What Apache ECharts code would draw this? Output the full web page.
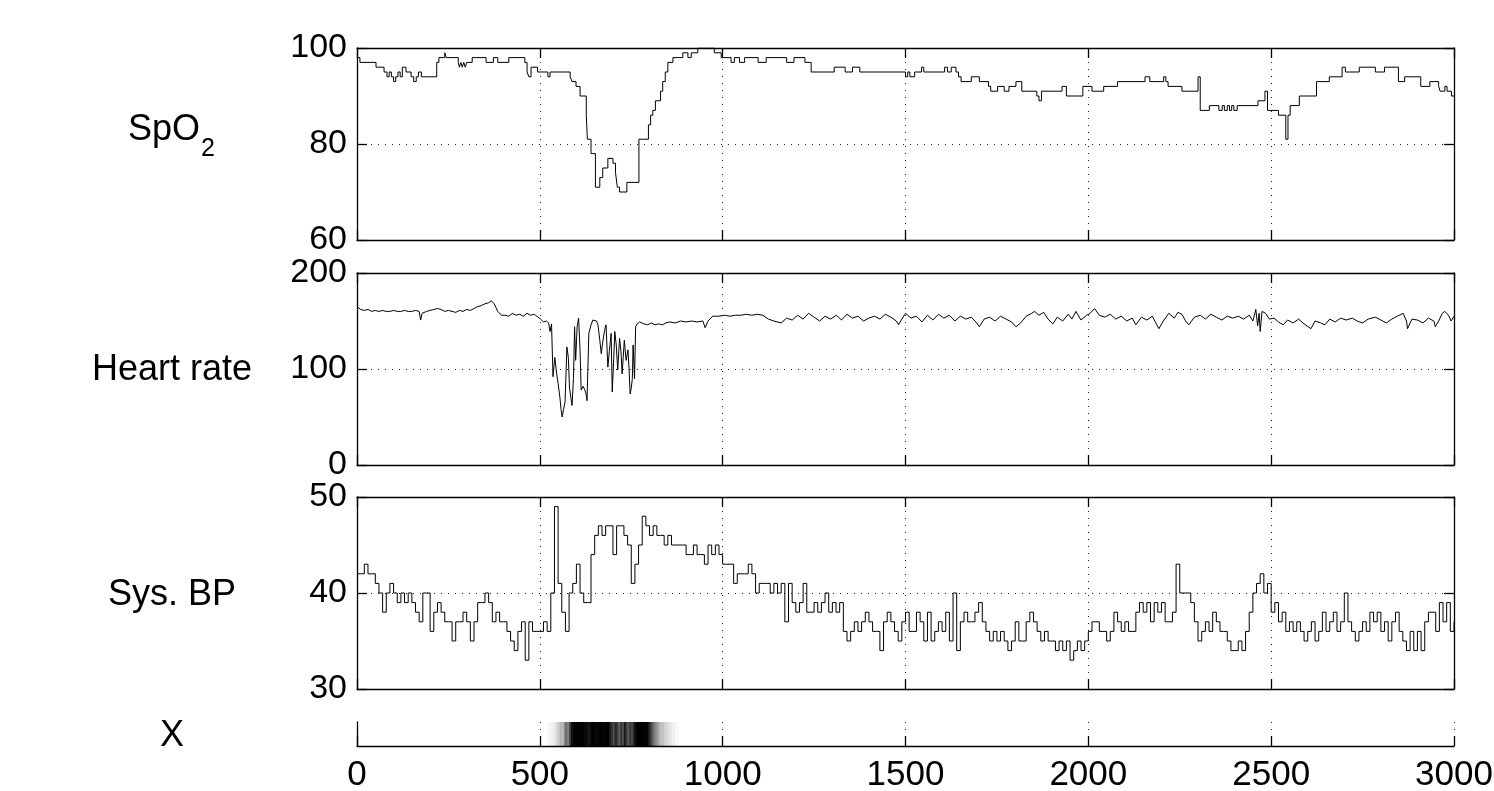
<!DOCTYPE html>
<html><head><meta charset="utf-8">
<script src="https://cdn.jsdelivr.net/npm/echarts@6/dist/echarts.min.js"></script>
<style>html,body{margin:0;padding:0;background:#fff}#c{width:1494px;height:791px}</style>
</head><body><div id="c"></div>
<script>
// ---------- DATA ----------
const xTickValues = [0, 500, 1000, 1500, 2000, 2500, 3000];

// SpO2: step levels (value holds from time until the next time)
const spo2T = [0,8,52,74,82,88,94,100,106,112,118,124,134,148,155,162,168,176,218,224,240,244,277,280,284,288,292,296,300,315,353,373,385,415,459,465,470,476,494,522,528,583,588,599,610,627,630,640,652,664,672,686,700,707,712,718,738,771,797,803,809,816,830,836,843,850,864,891,905,914,932,977,996,1023,1032,1046,1060,1097,1119,1175,1195,1225,1242,1305,1335,1355,1375,1500,1506,1512,1525,1544,1550,1607,1615,1625,1638,1645,1652,1680,1702,1727,1733,1752,1770,1783,1802,1818,1859,1865,1872,1928,1940,1985,2010,2042,2080,2155,2168,2206,2212,2218,2256,2300,2306,2331,2357,2366,2372,2380,2386,2392,2398,2407,2464,2483,2490,2520,2540,2546,2552,2577,2624,2659,2694,2703,2741,2785,2810,2848,2865,2909,2934,2958,2962,2975,2981,2993,3000];
const spo2V = [98,97,96,95,94,95,94,93,94,95,94,96,95,94,93,94,95,94,97,98,99,98,97,96,97,96,97,96,97,98,97,98,97,98,97,95,94,96,95,94,95,94,93,92,90,86,81,78,71,73,75,77,76,74,71,70,72,81,84,86,87,89,91,93,95,97,98,99,98,99,100,99,98,97,98,97,98,97,98,97,98,97,95,96,95,96,95,94,95,94,95,96,95,96,95,96,95,94,93,94,93,92,91,92,91,92,93,91,90,89,91,92,90,92,91,92,93,94,93,94,93,92,91,94,87,88,87,88,87,88,87,88,87,88,89,91,87,86,81,86,88,90,93,94,96,95,96,95,96,93,94,92,93,92,91,92,91,90,90];

// Heart rate
const hrT = [0,10,20,30,40,50,60,70,80,90,100,110,120,130,140,150,160,170,174,178,190,200,210,220,230,240,250,260,270,280,290,300,310,320,330,340,350,360,367,375,385,395,405,415,425,435,445,455,465,475,485,495,502,510,518,524,528,532,536,541,546,550,555,558,561,565,569,574,578,581,585,588,592,595,598,602,606,610,613,618,622,626,629,634,640,645,650,655,659,664,668,672,677,681,686,690,695,698,702,705,709,713,718,722,725,728,731,736,741,744,747,750,753,755,759,762,766,773,785,795,805,815,825,835,845,855,870,885,900,915,930,946,952,960,973,990,1005,1020,1035,1050,1065,1080,1095,1110,1125,1140,1160,1175,1190,1205,1220,1235,1250,1265,1280,1295,1311,1325,1340,1355,1370,1385,1400,1415,1430,1445,1460,1475,1481,1490,1500,1515,1530,1545,1560,1575,1590,1605,1620,1635,1650,1665,1680,1695,1702,1715,1730,1745,1760,1775,1790,1802,1815,1830,1845,1853,1865,1878,1890,1903,1915,1930,1945,1955,1966,1980,1995,2005,2017,2030,2045,2060,2075,2090,2105,2120,2130,2145,2160,2175,2193,2205,2220,2235,2245,2256,2266,2275,2290,2306,2320,2335,2350,2365,2380,2395,2410,2425,2440,2450,2458,2463,2467,2470,2475,2485,2495,2508,2520,2533,2545,2560,2575,2590,2609,2620,2635,2647,2660,2675,2690,2705,2722,2735,2750,2765,2785,2800,2815,2830,2845,2861,2870,2873,2885,2900,2915,2930,2945,2949,2958,2968,2975,2985,2992,3000];
const hrV = [165,162,161,162,160,161,160,161,160,160,161,160,160,161,160,160,161,160,151,158,160,161,162,163,162,160,161,160,159,161,160,162,161,163,165,166,168,169,171,168,160,156,156,155,158,156,157,155,158,156,157,154,152,149,150,148,139,147,92,112,95,85,70,58,50,58,66,123,112,81,70,62,90,144,109,144,153,120,78,82,79,75,67,137,146,151,153,150,146,130,116,128,140,146,102,118,137,76,110,139,125,99,132,118,95,112,130,109,120,100,74,80,90,125,90,144,147,149,147,146,148,146,147,146,148,149,148,150,149,150,149,150,143,150,155,155,156,155,156,156,157,156,157,156,152,150,148,153,151,156,152,158,154,150,155,152,156,151,157,153,155,150,153,155,152,157,154,150,146,152,158,153,155,149,156,151,157,153,156,150,155,152,154,148,144,152,154,150,155,152,149,144,148,155,158,160,156,159,152,147,154,150,157,152,160,151,156,158,163,156,154,157,152,155,150,153,146,154,151,155,142,150,158,153,159,157,150,146,154,156,152,157,154,151,155,153,155,152,156,150,162,145,158,139,160,158,152,153,149,146,151,148,152,147,142,150,148,146,152,149,153,151,153,150,148,152,154,151,148,152,155,158,150,142,152,151,148,153,150,144,150,158,160,156,150,155];

// Systolic BP, one sample every 10 time units from 0 to 3000
const bpStep = 10;
const bpV = [
42,42,43,42,42,41,40,38,40,41, 40,39,40,39,40,39,38,37,40,40,
36,38,39,38,37,37,35,37,37,38, 37,35,37,39,39,40,39,37,38,37,
37,36,35,34,36,37,33,37,36,36, 36,37,36,40,49,41,38,36,40,41,
43,40,39,39,44,46,47,46,47,47, 44,47,47,46,45,41,43,45,48,47,
46,47,46,46,45,46,45,45,45,45, 44,44,45,44,44,43,45,44,45,44,
43,43,43,41,42,42,42,43,42,40, 41,41,41,40,41,40,41,37,41,39,
38,39,41,38,38,39,38,39,40,38, 39,38,39,36,35,36,37,36,37,38,
37,36,36,34,37,38,37,36,35,37, 38,36,36,38,37,35,38,35,36,37,
36,38,35,40,34,37,38,37,37,38, 39,37,36,35,36,35,36,35,34,35,
37,35,35,37,38,37,36,35,36,35, 35,34,35,34,35,33,34,35,34,35,
36,37,37,36,36,35,36,38,37,36, 37,36,36,38,39,38,39,37,39,38,
39,37,37,38,43,40,40,40,39,37, 35,36,37,36,38,37,36,36,35,34,
34,35,34,36,38,40,41,42,40,41, 38,39,37,38,36,37,36,37,36,35,
36,37,35,36,38,36,37,38,36,37, 40,37,36,35,36,37,36,38,37,38,
36,37,35,37,38,36,35,34,36,34, 36,34,37,38,38,36,39,37,39,36,
37];

// X: probability strip (segment start times and darkness 0..1)
const xT = [0,520,530,540,545,550,555,560,565,570,575,580,585,590,600,610,620,630,640,650,660,670,680,690,695,700,705,710,715,720,725,730,735,740,745,750,755,760,765,775,785,795,800,805,810,815,820,825,830,840,850,860,870,880];
const xP = [0,0.03,0.06,0.11,0.17,0.22,0.3,0.25,0.45,0.6,0.5,0.75,0.92,0.98,1,1,0.96,0.92,1,0.97,1,0.98,1,0.9,0.8,0.7,0.85,0.75,0.62,0.8,0.7,0.9,0.75,0.65,0.8,0.72,0.88,0.96,1,1,1,0.9,0.78,0.65,0.55,0.45,0.38,0.3,0.24,0.17,0.11,0.06,0.03,0];
const xEnd = 3000;

// ---------- CHART ----------
const FONT = '"Liberation Sans", Arial, Helvetica, sans-serif';
const panels = [
  {top: 48,  h: 192, min: 60, max: 100, step: 20},
  {top: 273, h: 192, min: 0,  max: 200, step: 100},
  {top: 497, h: 192, min: 30, max: 50,  step: 10}
];
const L = 357, W = 1097;
const axisLine = {show: true, onZero: false, lineStyle: {color: '#000', width: 1.3}};
const tick = {show: true, inside: true, length: 10, lineStyle: {color: '#000', width: 1.3}};
const dotted = {show: true, lineStyle: {color: '#222', width: 1, type: [1, 6]}};

const grid = [], xAxis = [], yAxis = [];
panels.forEach((p, i) => {
  grid.push({left: L, top: p.top, width: W, height: p.h, containLabel: false, outerBoundsMode: 'none'});
  xAxis.push({type: 'value', gridIndex: i, position: 'bottom', min: 0, max: 3000, interval: 500,
    axisLine, axisTick: tick, axisLabel: {show: false}, splitLine: dotted});
  xAxis.push({type: 'value', gridIndex: i, position: 'top', min: 0, max: 3000, interval: 500,
    axisLine, axisTick: tick, axisLabel: {show: false}, splitLine: {show: false}});
  yAxis.push({type: 'value', gridIndex: i, position: 'left', min: p.min, max: p.max, interval: p.step,
    axisLine, axisTick: tick, splitLine: dotted,
    axisLabel: {show: true, color: '#000', fontSize: 34, fontFamily: FONT, margin: 10, showMinLabel: true, showMaxLabel: true}});
  yAxis.push({type: 'value', gridIndex: i, position: 'right', min: p.min, max: p.max, interval: p.step,
    axisLine, axisTick: tick, axisLabel: {show: false}, splitLine: {show: false}});
});
// strip grid
grid.push({left: L, top: 722, width: W, height: 24, containLabel: false, outerBoundsMode: 'none'});
xAxis.push({type: 'value', gridIndex: 3, position: 'bottom', min: 0, max: 3000, interval: 500, z: 5,
  axisLine, axisTick: tick, splitLine: dotted,
  axisLabel: {show: true, color: '#000', fontSize: 35, fontFamily: FONT, margin: 12, showMinLabel: true, showMaxLabel: true,
    formatter: v => xTickValues.includes(v) ? String(v) : ''}});
yAxis.push({type: 'value', gridIndex: 3, position: 'left', min: 0, max: 1, z: 5,
  axisLine, axisTick: {show: false}, axisLabel: {show: false}, splitLine: {show: false}});

const pairs = (T, V) => T.map((t, k) => [t, V[k]]);
const bpData = bpV.map((v, k) => [k * bpStep, v]);
const stripData = xT.map((t, k) => [t, k + 1 < xT.length ? xT[k + 1] : xEnd, xP[k]]);

const lineStyle = {color: '#000', width: 1};
const series = [
  {type: 'line', xAxisIndex: 0, yAxisIndex: 0, data: pairs(spo2T, spo2V), step: 'end', showSymbol: false, lineStyle, silent: true},
  {type: 'line', xAxisIndex: 2, yAxisIndex: 2, data: pairs(hrT, hrV), showSymbol: false, lineStyle, silent: true},
  {type: 'line', xAxisIndex: 4, yAxisIndex: 4, data: bpData, step: 'end', showSymbol: false, lineStyle, silent: true},
  {type: 'custom', xAxisIndex: 6, yAxisIndex: 6, data: stripData, silent: true, z: 1,
    encode: {x: [0, 1]},
    renderItem: (params, api) => {
      const a = api.coord([api.value(0), 1]);
      const b = api.coord([api.value(1), 0]);
      const g = Math.round(255 * (1 - api.value(2)));
      return {type: 'rect', shape: {x: a[0], y: a[1], width: b[0] - a[0] + 0.6, height: b[1] - a[1]},
        style: {fill: `rgb(${g},${g},${g})`}};
    }}
];

const txt = (text, x, y, size, align) => ({type: 'text', x, y, silent: true,
  style: {text, font: `${size}px ${FONT}`, fill: '#000', textAlign: align, textVerticalAlign: 'middle', align, verticalAlign: 'middle'}});

const graphic = [
  txt('SpO', 128, 130, 36, 'left'),
  txt('2', 201, 149, 25, 'left'),
  txt('Heart rate', 172, 370, 36, 'center'),
  txt('Sys. BP', 172, 595, 36, 'center'),
  txt('X', 172, 736, 36, 'center')
];

const chart = echarts.init(document.getElementById('c'), null, {renderer: 'canvas'});
chart.setOption({animation: false, backgroundColor: '#fff', grid, xAxis, yAxis, series, graphic});
</script>
</body></html>
